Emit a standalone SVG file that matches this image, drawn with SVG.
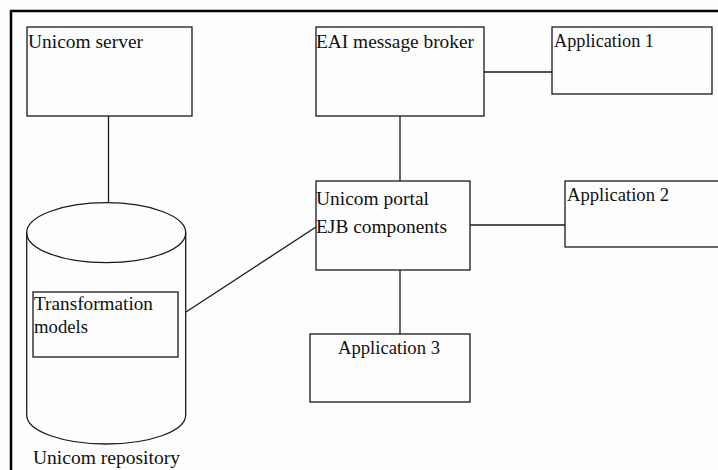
<svg xmlns="http://www.w3.org/2000/svg" width="718" height="470" viewBox="0 0 718 470">
<style>
.box{fill:none;stroke:#1a1a1a;stroke-width:1.3}
.ln{fill:none;stroke:#1a1a1a;stroke-width:1.3}
text{font-family:'Liberation Serif','Times New Roman','DejaVu Serif',serif;font-size:18px;fill:#111}
</style>
<rect width="718" height="470" fill="#fdfdfd"/>
<path d="M11 470 V11 H718" fill="none" stroke="#000" stroke-width="2.5"/>
<g id="connectors">
<line class="ln" x1="108.5" y1="116" x2="108.5" y2="203"/>
<line class="ln" x1="484" y1="72" x2="552" y2="72"/>
<line class="ln" x1="400" y1="116" x2="400" y2="181"/>
<line class="ln" x1="470" y1="225" x2="565" y2="225"/>
<line class="ln" x1="400" y1="270" x2="400" y2="334"/>
<line class="ln" x1="186" y1="312" x2="316" y2="227"/>
</g>
<g id="unicom-server">
<rect class="box" x="27" y="27" width="165" height="89"/>
<text x="28" y="48" textLength="115" lengthAdjust="spacingAndGlyphs">Unicom server</text>
</g>
<g id="eai-broker">
<rect class="box" x="316" y="27" width="168" height="89"/>
<text x="316" y="48" textLength="158" lengthAdjust="spacingAndGlyphs">EAI message broker</text>
</g>
<g id="application-1">
<rect class="box" x="552" y="27" width="160" height="67"/>
<text x="554" y="47" textLength="100" lengthAdjust="spacingAndGlyphs">Application 1</text>
</g>
<g id="unicom-portal">
<rect class="box" x="316" y="181" width="154" height="89"/>
<text x="316" y="205" textLength="113" lengthAdjust="spacingAndGlyphs">Unicom portal</text>
<text x="316" y="233" textLength="131" lengthAdjust="spacingAndGlyphs">EJB components</text>
</g>
<g id="application-2">
<rect class="box" x="565" y="181" width="170" height="66"/>
<text x="567" y="201" textLength="102" lengthAdjust="spacingAndGlyphs">Application 2</text>
</g>
<g id="application-3">
<rect class="box" x="310" y="334" width="160" height="68"/>
<text x="338" y="354" textLength="102" lengthAdjust="spacingAndGlyphs">Application 3</text>
</g>
<g id="unicom-repository">
<ellipse class="box" cx="106.2" cy="232.7" rx="79.5" ry="30"/>
<path class="box" d="M26.7 232.7 V415 A79.5 29 0 0 0 185.7 415 V232.7"/>
<rect class="box" x="33" y="292" width="145" height="65"/>
<text x="34" y="310" textLength="119" lengthAdjust="spacingAndGlyphs">Transformation</text>
<text x="34" y="333" textLength="54" lengthAdjust="spacingAndGlyphs">models</text>
<text x="33" y="464" textLength="147" lengthAdjust="spacingAndGlyphs">Unicom repository</text>
</g>
</svg>
